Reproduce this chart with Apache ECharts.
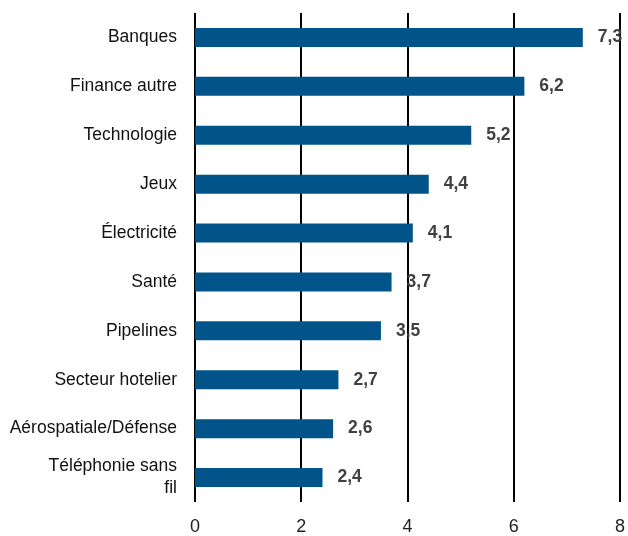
<!DOCTYPE html>
<html><head><meta charset="utf-8">
<script src="https://cdn.jsdelivr.net/npm/echarts@6/dist/echarts.min.js"></script>
<style>html,body{margin:0;padding:0;background:#fff}#c{width:628px;height:536px}</style>
</head><body><div id="c"></div>
<script>
const categories = ["Banques","Finance autre","Technologie","Jeux","Électricité","Santé","Pipelines","Secteur hotelier","Aérospatiale/Défense","Téléphonie sans\nfil"];
const values = [7.3,6.2,5.2,4.4,4.1,3.7,3.5,2.7,2.6,2.4];
const xTicks = [0,2,4,6,8];
const FONT = "Liberation Sans, Arial, sans-serif";
const chart = echarts.init(document.getElementById('c'), null, {renderer:'canvas'});
chart.setOption({
  animation:false,
  grid:{left:195,right:2,top:13,bottom:34,containLabel:false},
  xAxis:{type:'value',min:xTicks[0],max:xTicks[xTicks.length-1],interval:2,
    axisLine:{show:false},axisTick:{show:false},
    splitLine:{show:true,lineStyle:{color:'#000',width:2}},
    axisLabel:{fontFamily:FONT,fontSize:18,color:'#222',margin:16}},
  yAxis:{type:'category',inverse:true,data:categories,
    axisLine:{show:false},axisTick:{show:false},splitLine:{show:false},
    axisLabel:{fontFamily:FONT,fontSize:17.5,color:'#111',margin:18,lineHeight:22,align:'right'}},
  series:[{type:'bar',data:values,barWidth:19,
    itemStyle:{color:'#01548A'},
    label:{show:true,position:'right',distance:15,fontFamily:FONT,fontSize:17.5,fontWeight:'bold',color:'#404040',
      formatter:p=>String(p.value).replace('.',',')}}]
});
</script></body></html>
